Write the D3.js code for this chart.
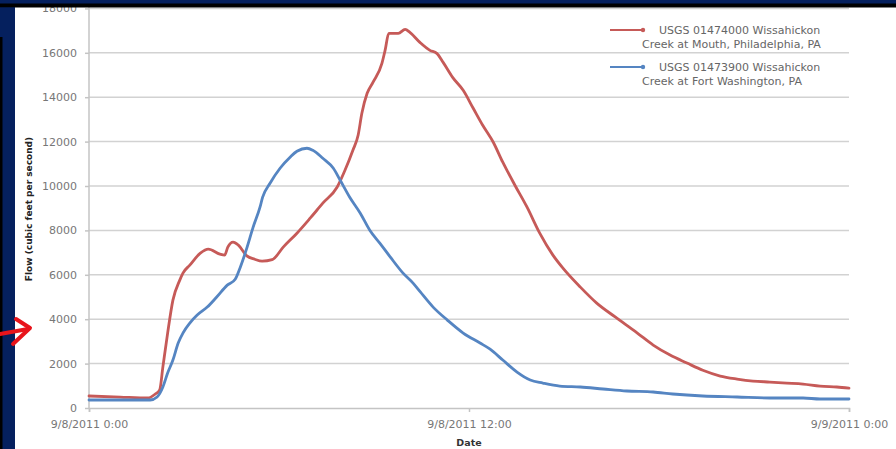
<!DOCTYPE html>
<html>
<head>
<meta charset="utf-8">
<script src="https://cdn.jsdelivr.net/npm/d3@7/dist/d3.min.js"></script>
<style>
  html, body { margin: 0; padding: 0; background: #05205e; }
  svg { display: block; }
</style>
</head>
<body>
<svg id="chart" width="896" height="449"></svg>
<script>
// ---------- DATA (hours after 9/8/2011 0:00, flow in cfs) ----------
const seriesNames = [
  ["USGS 01474000 Wissahickon", "Creek at Mouth, Philadelphia, PA"],
  ["USGS 01473900 Wissahickon", "Creek at Fort Washington, PA"]
];
const mouthHours = [0, 0.98, 1.86, 2.08, 2.24, 2.34, 2.49, 2.65, 2.87, 2.97, 3.19, 3.51, 3.76, 4.14, 4.29, 4.39, 4.55, 4.71, 4.99, 5.24, 5.46, 5.78, 6.13, 6.57, 6.98, 7.39, 7.83, 8.08, 8.34, 8.50, 8.62, 8.78, 8.97, 9.25, 9.35, 9.47, 9.76, 9.98, 10.14, 10.45, 10.77, 10.99, 11.18, 11.49, 11.81, 12.13, 12.44, 12.76, 13.07, 13.45, 13.83, 14.24, 14.65, 14.97, 15.51, 16.04, 16.61, 17.31, 17.81, 18.35, 18.88, 19.39, 19.93, 20.46, 20.97, 21.50, 22.04, 22.55, 23.08, 23.62, 24];
const mouthFlow  = [540, 490, 450, 620, 820, 1850, 3375, 4860, 5760, 6075, 6435, 6975, 7155, 6930, 6885, 7245, 7470, 7335, 6850, 6700, 6615, 6680, 7245, 7875, 8550, 9225, 9945, 10710, 11610, 12300, 13275, 14175, 14670, 15525, 16110, 16875, 16875, 17055, 16920, 16470, 16110, 15975, 15570, 14895, 14310, 13500, 12735, 11970, 11070, 10035, 9045, 7875, 6885, 6300, 5445, 4725, 4100, 3375, 2835, 2385, 2025, 1700, 1440, 1305, 1215, 1170, 1125, 1080, 990, 945, 900];

const fortHours = [0, 1.93, 2.15, 2.34, 2.49, 2.65, 2.81, 2.97, 3.19, 3.41, 3.73, 4.04, 4.36, 4.61, 4.77, 4.99, 5.18, 5.40, 5.49, 5.72, 6.03, 6.35, 6.57, 6.88, 7.07, 7.39, 7.71, 7.93, 8.24, 8.56, 8.87, 9.19, 9.51, 9.92, 10.23, 10.45, 10.86, 11.31, 11.81, 12.35, 12.66, 13.07, 13.52, 13.93, 14.34, 14.87, 15.51, 16.23, 16.99, 17.81, 18.44, 19.39, 20.46, 21.50, 22.55, 23.08, 24];
const fortFlow  = [360, 360, 495, 945, 1575, 2160, 2925, 3375, 3825, 4185, 4545, 5000, 5535, 5800, 6300, 7200, 8145, 9045, 9495, 10125, 10800, 11295, 11565, 11700, 11610, 11250, 10800, 10260, 9495, 8775, 8010, 7425, 6795, 6075, 5625, 5250, 4545, 3960, 3375, 2925, 2650, 2160, 1620, 1260, 1125, 990, 945, 855, 765, 720, 630, 540, 495, 450, 450, 405, 405];

const yTicks = [0, 2000, 4000, 6000, 8000, 10000, 12000, 14000, 16000, 18000];
const xTickHours = [0, 12, 24];
const seriesColors = ["#c65a58", "#5585c2"];

// ---------- CHART ----------
const svg = d3.select("#chart");
const W = 896, H = 449;
const start = new Date(2011, 8, 8, 0, 0);
const toDate = h => d3.timeMinute.offset(start, Math.round(h * 60));

const x = d3.scaleTime().domain([start, toDate(24)]).range([89, 849]);
const y = d3.scaleLinear().domain([0, 18000]).range([408, 8.4]);

svg.append("rect").attr("width", W).attr("height", H).attr("fill", "#05205e");
svg.append("rect").attr("x", 15).attr("y", 7).attr("width", W - 15).attr("height", H - 7).attr("fill", "#ffffff");

const font = "DejaVu Sans, sans-serif";

// gridlines
svg.append("g").selectAll("line").data(yTicks.filter(d => d > 0)).join("line")
  .attr("x1", 89).attr("x2", 849)
  .attr("y1", d => y(d)).attr("y2", d => y(d))
  .attr("stroke", "#d2d2d2").attr("stroke-width", 1.5);

// y axis
const yAxis = d3.axisLeft(y).tickValues(yTicks).tickSize(4).tickPadding(8).tickFormat(d3.format("d"));
const gy = svg.append("g").attr("transform", "translate(89,0)").call(yAxis);
gy.select(".domain").attr("stroke", "#c4c4c4").attr("stroke-width", 1.5).attr("d", "M0,408V7");
gy.selectAll(".tick line").attr("stroke", "#c4c4c4").attr("stroke-width", 1.5);
gy.selectAll(".tick text").attr("fill", "#777").style("font-family", font).style("font-size", "11px");

// x axis
const xAxis = d3.axisBottom(x).tickValues(xTickHours.map(toDate)).tickSize(4).tickPadding(8)
  .tickFormat(d3.timeFormat("%-m/%-d/%Y %-H:%M"));
const gx = svg.append("g").attr("transform", "translate(0,408)").call(xAxis);
gx.select(".domain").attr("stroke", "#c4c4c4").attr("stroke-width", 1.5);
gx.selectAll(".tick line").attr("stroke", "#c4c4c4").attr("stroke-width", 1.5);
gx.selectAll(".tick text").attr("fill", "#777").style("font-family", font).style("font-size", "11px");

// lines
const line = d3.line().x(d => x(d[0])).y(d => y(d[1])).curve(d3.curveMonotoneX);
const mouth = mouthHours.map((h, i) => [toDate(h), mouthFlow[i]]);
const fort = fortHours.map((h, i) => [toDate(h), fortFlow[i]]);
[mouth, fort].forEach((s, i) => {
  svg.append("path").datum(s).attr("d", line)
    .attr("fill", "none").attr("stroke", seriesColors[i])
    .attr("stroke-width", 2.8).attr("stroke-linejoin", "round").attr("stroke-linecap", "round");
});

// axis titles
svg.append("text").attr("x", 469).attr("y", 446).attr("text-anchor", "middle")
  .style("font-family", font).style("font-size", "9.5px").style("font-weight", "bold")
  .attr("fill", "#333").text("Date");
svg.append("text").attr("transform", "translate(32,209) rotate(-90)").attr("text-anchor", "middle")
  .style("font-family", font).style("font-size", "9px").style("font-weight", "bold")
  .attr("fill", "#222").text("Flow (cubic feet per second)");

// legend
const legendY = [30, 67];
seriesNames.forEach((names, i) => {
  const g = svg.append("g");
  g.append("line").attr("x1", 610).attr("x2", 643).attr("y1", legendY[i]).attr("y2", legendY[i])
    .attr("stroke", seriesColors[i]).attr("stroke-width", 2);
  g.append("circle").attr("cx", 643).attr("cy", legendY[i]).attr("r", 2.2).attr("fill", seriesColors[i]);
  g.append("text").attr("x", 659).attr("y", legendY[i] + 4)
    .style("font-family", font).style("font-size", "11px").attr("fill", "#666").text(names[0]);
  g.append("text").attr("x", 642).attr("y", legendY[i] + 18)
    .style("font-family", font).style("font-size", "11px").attr("fill", "#666").text(names[1]);
});

// frame bands over top
svg.append("rect").attr("x", 0).attr("y", 0).attr("width", W).attr("height", 3.5).attr("fill", "#05205e");
svg.append("rect").attr("x", 0).attr("y", 3.5).attr("width", W).attr("height", 4).attr("fill", "#000000");
svg.append("rect").attr("x", 0).attr("y", 7.5).attr("width", 15).attr("height", H).attr("fill", "#05205e");
svg.append("rect").attr("x", 0).attr("y", 37).attr("width", 2.5).attr("height", H).attr("fill", "#000000");

// red annotation arrow
const arrow = svg.append("g").attr("stroke", "#e8141b").attr("stroke-width", 4)
  .attr("fill", "none").attr("stroke-linecap", "round").attr("stroke-linejoin", "round");
arrow.append("path").attr("d", "M0,334 L28,329");
arrow.append("path").attr("d", "M16,319 L30,328 L13,344");
</script>
</body>
</html>
